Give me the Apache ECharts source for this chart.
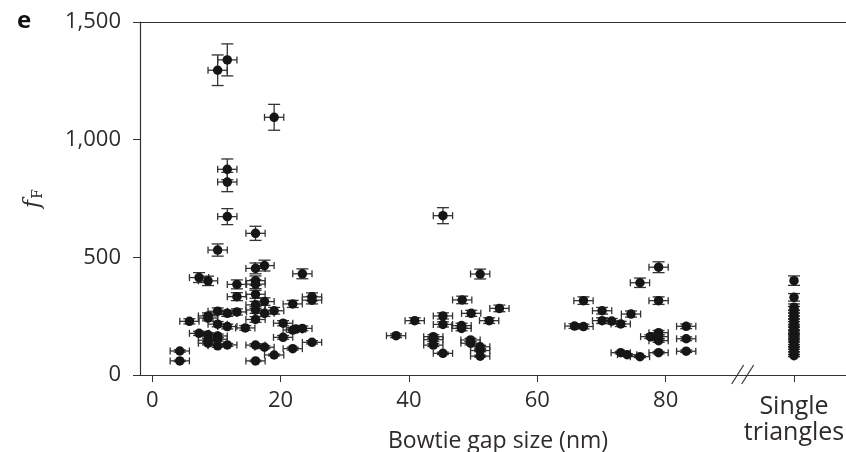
<!DOCTYPE html>
<html>
<head>
<meta charset="utf-8">
<script src="https://cdn.jsdelivr.net/npm/echarts@6/dist/echarts.min.js"></script>
<style>
  html, body { margin: 0; padding: 0; background: #fff; }
  #chart { width: 846px; height: 452px; }
</style>
</head>
<body>
<div id="chart"></div>
<script>
// bowtie antennas: gap size (nm) and fF with its error
const gapSize = [10.2, 11.7, 19.0, 11.7, 11.7, 11.7, 16.1, 10.2, 16.1, 17.5,
  23.4, 7.3, 8.7, 13.2, 16.1, 16.1, 13.2, 16.1, 17.5, 21.9,
  24.9, 24.9, 16.1, 16.1, 19.0, 17.5, 13.2, 11.7, 10.2, 8.7,
  8.7, 16.1, 5.8, 10.2, 11.7, 14.5, 20.4, 21.9, 23.4, 22.4,
  7.3, 8.7, 10.2, 10.2, 8.7, 8.7, 10.2, 11.7, 16.1, 17.5,
  20.4, 21.9, 24.9, 19.0, 4.3, 4.3, 16.1,
  45.3, 51.1, 48.3, 54.1, 49.7, 45.3, 45.3, 52.5, 40.9, 48.2,
  48.2, 38.0, 43.8, 43.8, 43.8, 49.6, 49.6, 51.1, 51.1, 51.1, 45.3,
  78.9, 76.0, 67.2, 78.9, 70.1, 74.6, 70.1, 71.6, 73.0, 65.8,
  67.2, 83.2, 78.9, 77.6, 78.9, 78.9, 83.2, 73.0, 74.0, 76.0, 78.9, 83.2];
const gapFF = [1295, 1339, 1095, 874, 820, 673, 602, 531, 453, 465,
  430, 414, 400, 385, 401, 386, 333, 343, 312, 302,
  332, 318, 298, 276, 273, 262, 268, 262, 271, 251,
  242, 236, 228, 216, 206, 200, 220, 191, 198, 195,
  177, 171, 166, 152, 148, 135, 124, 128, 127, 118,
  160, 112, 139, 85, 102, 60, 60,
  677, 429, 319, 283, 262, 251, 215, 231, 231, 210,
  198, 167, 163, 150, 127, 149, 135, 120, 104, 80, 92,
  458, 392, 316, 316, 273, 259, 231, 229, 217, 208,
  206, 207, 180, 163, 163, 146, 154, 95, 86, 78, 95, 101];
const gapFFErr = [65, 68, 55, 44, 41, 34, 30, 26, 23, 23,
  21, 21, 20, 19, 20, 19, 17, 17, 16, 15,
  17, 16, 15, 14, 14, 13, 13, 13, 14, 13,
  12, 12, 11, 11, 10, 10, 11, 10, 10, 10,
  9, 9, 8, 8, 7, 7, 6, 6, 6, 6,
  8, 6, 7, 4, 5, 3, 3,
  34, 21, 16, 14, 13, 13, 11, 12, 12, 10,
  10, 8, 8, 8, 6, 7, 7, 6, 5, 4, 5,
  23, 20, 16, 16, 14, 13, 12, 11, 11, 10,
  10, 10, 9, 8, 8, 7, 8, 5, 4, 4, 5, 5];
const gapSizeErr = 1.5;

// single triangles (placed after the axis break)
const singlePos = 100;
const singleFF = [401, 330, 288, 277, 263, 251, 239, 226, 216, 203,
  193, 181, 169, 158, 147, 136, 124, 115, 104, 93, 82];
const singleFFErr = [20, 16, 14, 14, 13, 12, 12, 11, 11, 10,
  10, 9, 8, 8, 7, 7, 6, 6, 5, 5, 4];

const xTicks = [0, 20, 40, 60, 80, 100];
const breakAt = 92;

const font = 'Open Sans';
const ink = '#2e2b29';

const errData = gapSize.map((x, i) => [x, gapFF[i], gapSizeErr, gapFFErr[i]])
  .concat(singleFF.map((y, i) => [singlePos, y, 0, singleFFErr[i]]));
const dotData = gapSize.map((x, i) => [x, gapFF[i]])
  .concat(singleFF.map(y => [singlePos, y]));

function renderErr(params, api) {
  const x = api.value(0), y = api.value(1), ex = api.value(2), ey = api.value(3);
  const c = api.coord([x, y]);
  const top = api.coord([x, y + ey])[1], bot = api.coord([x, y - ey])[1];
  const style = { stroke: '#333', lineWidth: 1.3 };
  const capV = 6, capH = 3.5;
  const kids = [
    { type: 'line', shape: { x1: c[0], y1: top, x2: c[0], y2: bot }, style },
    { type: 'line', shape: { x1: c[0] - capV, y1: top, x2: c[0] + capV, y2: top }, style },
    { type: 'line', shape: { x1: c[0] - capV, y1: bot, x2: c[0] + capV, y2: bot }, style }
  ];
  if (ex > 0) {
    const l = api.coord([x - ex, y])[0], r = api.coord([x + ex, y])[0];
    kids.push(
      { type: 'line', shape: { x1: l, y1: c[1], x2: r, y2: c[1] }, style },
      { type: 'line', shape: { x1: l, y1: c[1] - capH, x2: l, y2: c[1] + capH }, style },
      { type: 'line', shape: { x1: r, y1: c[1] - capH, x2: r, y2: c[1] + capH }, style }
    );
  }
  return { type: 'group', children: kids };
}

const chart = echarts.init(document.getElementById('chart'));
chart.setOption({
  animation: false,
  title: {
    text: 'e', left: 12, top: 4,
    textStyle: { fontFamily: font, fontWeight: 'bold', fontSize: 24, color: '#111' }
  },
  grid: { left: 140, right: 0, top: 22, bottom: 77, outerBoundsMode: 'none', containLabel: false },
  xAxis: [{
    type: 'value', min: -1.9, max: 108.1,
    name: 'Bowtie gap size (nm)', nameLocation: 'middle', nameGap: 55, nameMoveOverlap: false,
    nameTextStyle: { fontFamily: font, fontSize: 23, color: ink, padding: [0, 0, 0, 10] },
    axisLine: { onZero: false, lineStyle: { color: '#333', width: 1.2 } },
    axisTick: { customValues: xTicks, length: 7, lineStyle: { color: '#333' } },
    axisLabel: {
      customValues: xTicks, margin: 11,
      fontFamily: font, fontSize: 22, color: ink, lineHeight: 30,
      formatter: v => v === singlePos ? '{a|Single}\n{c|triangles}' : String(v),
      rich: {
        a: { fontFamily: font, fontSize: 25, color: ink, lineHeight: 31, padding: [10, 0, 0, 0] },
        c: { fontFamily: font, fontSize: 25, color: ink, lineHeight: 31 }
      }
    },
    splitLine: { show: false }
  }, {
    type: 'value', position: 'top', min: -1.9, max: 108.1,
    axisLine: { show: true, onZero: false, lineStyle: { color: '#333', width: 1.2 } },
    axisTick: { show: false }, axisLabel: { show: false }, splitLine: { show: false }
  }],
  yAxis: {
    type: 'value', min: 0, max: 1500, interval: 500,
    name: '{f|f}{s|F}', nameLocation: 'middle', nameRotate: 90, nameGap: 95,
    nameTextStyle: {
      rich: {
        f: { fontFamily: 'DejaVu Serif', fontStyle: 'italic', fontSize: 22, color: ink },
        s: { fontFamily: 'DejaVu Serif', fontSize: 14, color: ink, padding: [10, 0, 0, 1] }
      }
    },
    axisLine: { show: true, onZero: false, lineStyle: { color: '#333', width: 1.2 } },
    axisTick: { show: true, length: 7, lineStyle: { color: '#333' } },
    axisLabel: {
      margin: 19, fontFamily: font, fontSize: 22, color: ink,
      formatter: v => v.toLocaleString('en-US')
    },
    splitLine: { show: false }
  },
  series: [{
    type: 'custom',
    renderItem: renderErr,
    encode: { x: 0, y: 1 },
    data: errData,
    z: 2
  }, {
    type: 'scatter',
    data: dotData,
    symbolSize: 9.5,
    itemStyle: { color: '#161616', opacity: 1 },
    z: 3
  }]
});

// axis break marks
const bx = chart.convertToPixel({ xAxisIndex: 0 }, breakAt);
const by = chart.convertToPixel({ yAxisIndex: 0 }, 0);
chart.setOption({
  graphic: [-5, 5].map(dx => ({
    type: 'line',
    shape: { x1: bx + dx - 6, y1: by + 9, x2: bx + dx + 6, y2: by - 10 },
    style: { stroke: '#333', lineWidth: 1.2 }
  }))
});
</script>
</body>
</html>
